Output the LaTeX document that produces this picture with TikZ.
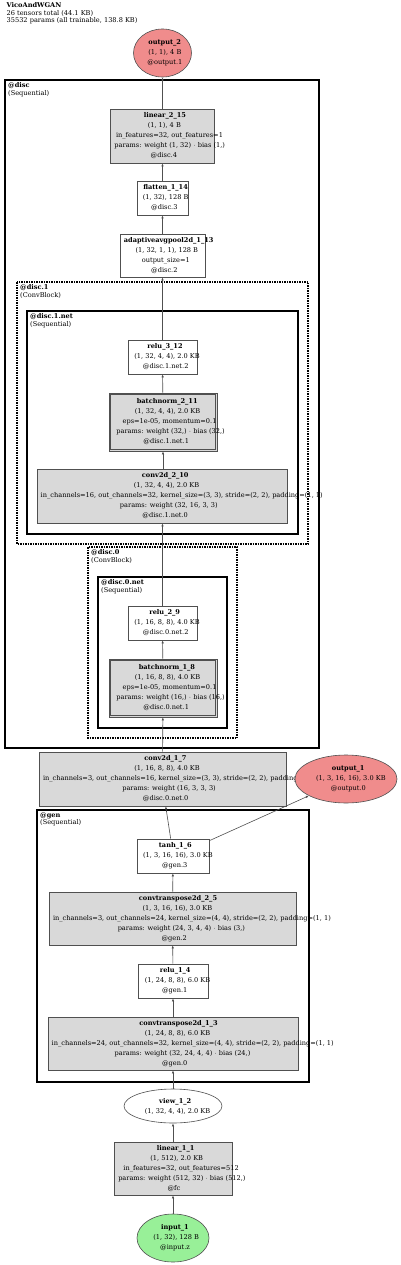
\documentclass[tikz,border=0pt]{standalone}
\usepackage{fontspec}
\setmainfont{DejaVu Serif}
\usetikzlibrary{shapes.geometric,arrows.meta}
\definecolor{boxgray}{RGB}{217,217,217}
\definecolor{outred}{RGB}{240,140,140}
\definecolor{ingreen}{RGB}{152,240,152}
\definecolor{edgec}{RGB}{80,80,80}
\newsavebox\shlbox
\newcommand\shl[1]{\sbox\shlbox{#1}\hspace*{0.14\wd\shlbox}\usebox\shlbox}
\tikzset{
  txt/.style={align=center,inner sep=0pt,font=\fontsize{6.6}{10}\selectfont},
  lbl/.style={align=left,inner sep=0pt,anchor=north west,font=\fontsize{6.6}{7.3}\selectfont},
  wbox/.style={draw=edgec,line width=0.6pt,fill=white,inner sep=0pt},
  gbox/.style={draw=edgec,line width=0.6pt,fill=boxgray,inner sep=0pt},
  redell/.style={ellipse,draw=edgec,line width=0.6pt,fill=outred,inner sep=0pt},
  greenell/.style={ellipse,draw=edgec,line width=0.6pt,fill=ingreen,inner sep=0pt},
  whiteell/.style={ellipse,draw=edgec,line width=0.6pt,fill=white,inner sep=0pt},
  seqbox/.style={draw=black,line width=2.5pt},
  netbox/.style={draw=black,line width=1.7pt},
  blockbox/.style={draw=black,line width=2pt,dash pattern=on 1.5pt off 1pt},
  arr/.style={draw=edgec,line width=0.6pt,-{Latex[length=3pt,width=2.4pt]}},
}
\begin{document}
\begin{tikzpicture}[x=1pt,y=-1pt]
\useasboundingbox (0,0) rectangle (400,1265);
\fill[white] (0,0) rectangle (400,1265);

% title
\node[lbl] (title) at (6.5,2.5) {\textbf{VicoAndWGAN}\\26 tensors total (44.1 KB)\\35532 params (all trainable, 138.8 KB)};

% nodes
\node[redell,minimum width=58pt,minimum height=48pt] (out2) at (162.5,53) {};
\node[txt] at (out2) {\shl{\textbf{output\_2}}\\\shl{(1, 1), 4 B}\\\shl{@output.1}};

\node[gbox,minimum width=104pt,minimum height=54pt] (lin2) at (162,136) {};
\node[txt] at (lin2) {\shl{\textbf{linear\_2\_15}}\\\shl{(1, 1), 4 B}\\\shl{in\_features=32, out\_features=1}\\\shl{params: weight (1, 32) $\cdot$ bias (1,)}\\\shl{@disc.4}};

\node[wbox,minimum width=51pt,minimum height=34pt] (flat) at (162.5,198) {};
\node[txt] at (flat) {\shl{\textbf{flatten\_1\_14}}\\\shl{(1, 32), 128 B}\\\shl{@disc.3}};

\node[wbox,minimum width=85pt,minimum height=43pt] (pool) at (162.5,255.5) {};
\node[txt] at (pool) {\shl{\textbf{adaptiveavgpool2d\_1\_13}}\\\shl{(1, 32, 1, 1), 128 B}\\\shl{output\_size=1}\\\shl{@disc.2}};

\node[wbox,minimum width=69pt,minimum height=34pt] (relu3) at (162.5,357) {};
\node[txt] at (relu3) {\shl{\textbf{relu\_3\_12}}\\\shl{(1, 32, 4, 4), 2.0 KB}\\\shl{@disc.1.net.2}};

\node[gbox,minimum width=108pt,minimum height=58pt] (bn2) at (163,422) {};
\draw[edgec,line width=0.6pt] ([xshift=2pt,yshift=-2pt]bn2.north west) rectangle ([xshift=-2pt,yshift=2pt]bn2.south east);
\node[txt] at (bn2) {\shl{\textbf{batchnorm\_2\_11}}\\\shl{(1, 32, 4, 4), 2.0 KB}\\\shl{eps=1e-05, momentum=0.1}\\\shl{params: weight (32,) $\cdot$ bias (32,)}\\\shl{@disc.1.net.1}};

\node[gbox,minimum width=250pt,minimum height=54pt] (conv2) at (162,496) {};
\node[txt] at (conv2) {\shl{\textbf{conv2d\_2\_10}}\\\shl{(1, 32, 4, 4), 2.0 KB}\\\shl{in\_channels=16, out\_channels=32, kernel\_size=(3, 3), stride=(2, 2), padding=(1, 1)}\\\shl{params: weight (32, 16, 3, 3)}\\\shl{@disc.1.net.0}};

\node[wbox,minimum width=69pt,minimum height=34pt] (relu2) at (162.5,623) {};
\node[txt] at (relu2) {\shl{\textbf{relu\_2\_9}}\\\shl{(1, 16, 8, 8), 4.0 KB}\\\shl{@disc.0.net.2}};

\node[gbox,minimum width=108pt,minimum height=58pt] (bn1) at (163,688) {};
\draw[edgec,line width=0.6pt] ([xshift=2pt,yshift=-2pt]bn1.north west) rectangle ([xshift=-2pt,yshift=2pt]bn1.south east);
\node[txt] at (bn1) {\shl{\textbf{batchnorm\_1\_8}}\\\shl{(1, 16, 8, 8), 4.0 KB}\\\shl{eps=1e-05, momentum=0.1}\\\shl{params: weight (16,) $\cdot$ bias (16,)}\\\shl{@disc.0.net.1}};

\node[gbox,minimum width=247pt,minimum height=54pt] (conv1) at (162.5,779) {};
\node[txt] at (conv1) {\shl{\textbf{conv2d\_1\_7}}\\\shl{(1, 16, 8, 8), 4.0 KB}\\\shl{in\_channels=3, out\_channels=16, kernel\_size=(3, 3), stride=(2, 2), padding=(1, 1)}\\\shl{params: weight (16, 3, 3, 3)}\\\shl{@disc.0.net.0}};

% output_1 drawn after conv2d_1_7 so that it covers the overflowing text
\node[redell,minimum width=102pt,minimum height=48pt] (out1) at (346,779) {};
\node[txt] at (out1) {\shl{\textbf{output\_1}}\\\shl{(1, 3, 16, 16), 3.0 KB}\\\shl{@output.0}};

\node[wbox,minimum width=72pt,minimum height=34pt] (tanh) at (173,856) {};
\node[txt] at (tanh) {\shl{\textbf{tanh\_1\_6}}\\\shl{(1, 3, 16, 16), 3.0 KB}\\\shl{@gen.3}};

\node[gbox,minimum width=247pt,minimum height=53pt] (ct2) at (172.5,918.5) {};
\node[txt] at (ct2) {\shl{\textbf{convtranspose2d\_2\_5}}\\\shl{(1, 3, 16, 16), 3.0 KB}\\\shl{in\_channels=3, out\_channels=24, kernel\_size=(4, 4), stride=(2, 2), padding=(1, 1)}\\\shl{params: weight (24, 3, 4, 4) $\cdot$ bias (3,)}\\\shl{@gen.2}};

\node[wbox,minimum width=70pt,minimum height=34pt] (relu1) at (173,981) {};
\node[txt] at (relu1) {\shl{\textbf{relu\_1\_4}}\\\shl{(1, 24, 8, 8), 6.0 KB}\\\shl{@gen.1}};

\node[gbox,minimum width=250pt,minimum height=53pt] (ct1) at (173,1043.5) {};
\node[txt] at (ct1) {\shl{\textbf{convtranspose2d\_1\_3}}\\\shl{(1, 24, 8, 8), 6.0 KB}\\\shl{in\_channels=24, out\_channels=32, kernel\_size=(4, 4), stride=(2, 2), padding=(1, 1)}\\\shl{params: weight (32, 24, 4, 4) $\cdot$ bias (24,)}\\\shl{@gen.0}};

\node[whiteell,minimum width=98pt,minimum height=34pt] (view) at (173,1106) {};
\node[txt] at (view) {\shl{\textbf{view\_1\_2}}\\\shl{(1, 32, 4, 4), 2.0 KB}};

\node[gbox,minimum width=118pt,minimum height=53pt] (lin1) at (173,1168.5) {};
\node[txt] at (lin1) {\shl{\textbf{linear\_1\_1}}\\\shl{(1, 512), 2.0 KB}\\\shl{in\_features=32, out\_features=512}\\\shl{params: weight (512, 32) $\cdot$ bias (512,)}\\\shl{@fc}};

\node[greenell,minimum width=72pt,minimum height=48pt] (in1) at (173,1238) {};
\node[txt] at (in1) {\shl{\textbf{input\_1}}\\\shl{(1, 32), 128 B}\\\shl{@input.z}};

% containers (drawn on top, unfilled)
\draw[seqbox] (5,80) rectangle (319,748);
\node[lbl] (disclbl) at (8,82.5) {\textbf{@disc}\\(Sequential)};
\draw[blockbox] (17,282) rectangle (308,544);
\node[lbl] (disc1lbl) at (20,284.5) {\textbf{@disc.1}\\(ConvBlock)};
\draw[netbox] (27,311) rectangle (298,534);
\node[lbl] (disc1netlbl) at (30,313.5) {\textbf{@disc.1.net}\\(Sequential)};
\draw[blockbox] (88,547) rectangle (237,738);
\node[lbl] (disc0lbl) at (91,549.5) {\textbf{@disc.0}\\(ConvBlock)};
\draw[netbox] (98,577) rectangle (227,728);
\node[lbl] (disc0netlbl) at (101,579.5) {\textbf{@disc.0.net}\\(Sequential)};
\draw[seqbox] (37,810) rectangle (309,1082);
\node[lbl] (genlbl) at (40,812.5) {\textbf{@gen}\\(Sequential)};

% edges
\draw[arr] (in1) -- (lin1);
\draw[arr] (lin1) -- (view);
\draw[arr] (view) -- (ct1);
\draw[arr] (ct1) -- (relu1);
\draw[arr] (relu1) -- (ct2);
\draw[arr] (ct2) -- (tanh);
\draw[arr] ([xshift=-2.3pt]tanh.north) -- ([xshift=3.2pt]conv1.south);
\draw[arr] ([yshift=-2pt]tanh.north east) -- (out1);
\draw[arr] (conv1) -- (bn1);
\draw[arr] (bn1) -- (relu2);
\draw[arr] (relu2.north) -- (relu2.north |- conv2.south);
\draw[arr] (conv2.north -| bn2) -- (bn2.south);
\draw[arr] (bn2) -- (relu3);
\draw[arr] (relu3.north) -- (relu3.north |- pool.south);
\draw[arr] (pool) -- (flat);
\draw[arr] (flat.north) -- (flat.north |- lin2.south);
\draw[arr] (lin2.north -| out2) -- (out2);
\end{tikzpicture}
\end{document}
